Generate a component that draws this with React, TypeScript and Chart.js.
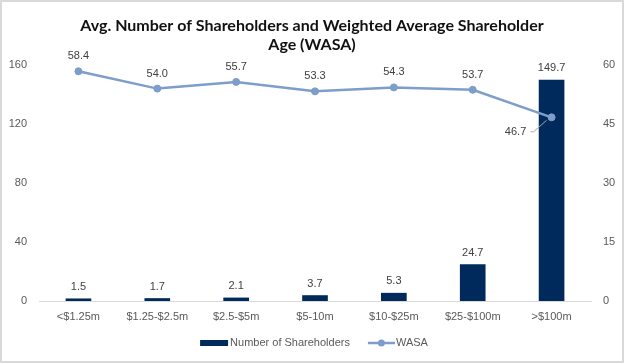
import { useEffect, useRef } from "react";
import { Chart, registerables } from "chart.js";

Chart.register(...registerables);

const categories = ["<$1.25m", "$1.25-$2.5m", "$2.5-$5m", "$5-10m", "$10-$25m", "$25-$100m", ">$100m"];
const shareholders = [1.5, 1.7, 2.1, 3.7, 5.3, 24.7, 149.7];
const wasa = [58.4, 54.0, 55.7, 53.3, 54.3, 53.7, 46.7];
const leftAxis = { min: 0, max: 160, step: 40 };
const rightAxis = { min: 0, max: 60, step: 15 };
const titleLines = ["Avg. Number of Shareholders and Weighted Average Shareholder", "Age (WASA)"];
const seriesNames = ["Number of Shareholders", "WASA"];

const BAR_COLOR = "#002a5c";
const LINE_COLOR = "#7d9dca";
const TEXT_COLOR = "#595959";
const LABEL_COLOR = "#404040";
const FONT = "'Liberation Sans', Arial, sans-serif";

const decorPlugin = {
  id: "decor",
  beforeDraw(chart: any) {
    const { ctx, width, height } = chart;
    ctx.save();
    ctx.fillStyle = "#ffffff";
    ctx.fillRect(0, 0, width, height);
    ctx.restore();
  },
  afterDatasetsDraw(chart: any) {
    const { ctx } = chart;
    ctx.save();
    ctx.font = `11px ${FONT}`;
    ctx.fillStyle = LABEL_COLOR;
    ctx.textAlign = "center";
    ctx.textBaseline = "middle";
    const barMeta = chart.getDatasetMeta(0);
    barMeta.data.forEach((el: any, i: number) => {
      ctx.fillText(shareholders[i].toFixed(1), el.x, el.y - 12);
    });
    const lineMeta = chart.getDatasetMeta(1);
    const n = lineMeta.data.length;
    lineMeta.data.forEach((el: any, i: number) => {
      const txt = wasa[i].toFixed(1);
      if (i === n - 1) {
        ctx.fillText(txt, el.x - 36, el.y + 15);
        ctx.strokeStyle = "#a6a6a6";
        ctx.lineWidth = 1;
        ctx.beginPath();
        ctx.moveTo(el.x - 21, el.y + 14.5);
        ctx.lineTo(el.x - 18, el.y + 14.5);
        ctx.lineTo(el.x - 5, el.y + 3);
        ctx.stroke();
      } else {
        ctx.fillText(txt, el.x, el.y - 15);
      }
    });
    ctx.restore();
  },
  afterDraw(chart: any) {
    const { ctx, width, height } = chart;
    ctx.save();
    // legend
    const y = 343;
    ctx.font = `11px ${FONT}`;
    ctx.textBaseline = "middle";
    ctx.textAlign = "left";
    const w1 = ctx.measureText(seriesNames[0]).width;
    const w2 = ctx.measureText(seriesNames[1]).width;
    const total = 28 + 2 + w1 + 18 + 27 + 1 + w2;
    let x = width / 2 + 2 - total / 2;
    ctx.fillStyle = BAR_COLOR;
    ctx.fillRect(x, y - 3, 28, 6);
    x += 30;
    ctx.fillStyle = TEXT_COLOR;
    ctx.fillText(seriesNames[0], x, y);
    x += w1 + 18;
    ctx.strokeStyle = LINE_COLOR;
    ctx.lineWidth = 2.5;
    ctx.beginPath();
    ctx.moveTo(x, y);
    ctx.lineTo(x + 27, y);
    ctx.stroke();
    ctx.fillStyle = LINE_COLOR;
    ctx.beginPath();
    ctx.arc(x + 13.5, y, 3.5, 0, Math.PI * 2);
    ctx.fill();
    x += 28;
    ctx.fillStyle = TEXT_COLOR;
    ctx.fillText(seriesNames[1], x, y);
    // frame
    ctx.strokeStyle = "#d9d9d9";
    ctx.lineWidth = 2;
    ctx.strokeRect(1, 1, width - 2, height - 2);
    ctx.restore();
  },
};

export default function App() {
  const ref = useRef<HTMLCanvasElement | null>(null);
  useEffect(() => {
    if (!ref.current) return;
    const chart = new Chart(ref.current, {
      data: {
        labels: categories,
        datasets: [
          {
            type: "bar",
            label: seriesNames[0],
            data: shareholders,
            backgroundColor: BAR_COLOR,
            borderWidth: 0,
            barThickness: 25,
            yAxisID: "y",
            order: 1,
          },
          {
            type: "line",
            label: seriesNames[1],
            data: wasa,
            borderColor: LINE_COLOR,
            backgroundColor: LINE_COLOR,
            borderWidth: 2.5,
            pointRadius: 3.5,
            pointBackgroundColor: LINE_COLOR,
            pointBorderColor: LINE_COLOR,
            pointBorderWidth: 1,
            tension: 0,
            yAxisID: "y1",
            order: 0,
          },
        ],
      } as any,
      options: {
        responsive: false,
        animation: false,
        devicePixelRatio: 1,
        layout: { padding: 0 },
        plugins: {
          legend: { display: false },
          tooltip: { enabled: false },
          title: {
            display: true,
            text: titleLines,
            color: "#111111",
            font: { family: "Lato, 'Open Sans', sans-serif", size: 16, weight: "bold", lineHeight: 1.2 },
            padding: { top: 16, bottom: 10.6 },
          },
        },
        scales: {
          x: {
            grid: { display: false, drawTicks: false },
            border: { display: true, color: "#d9d9d9", width: 1 },
            ticks: { color: TEXT_COLOR, font: { family: FONT, size: 11 }, padding: 9, maxRotation: 0, autoSkip: false },
            afterFit: (s: any) => { s.height = 62; },
          },
          y: {
            position: "left",
            min: leftAxis.min,
            max: leftAxis.max,
            grid: { display: false, drawTicks: false },
            border: { display: false },
            ticks: { stepSize: leftAxis.step, color: TEXT_COLOR, font: { family: FONT, size: 11 }, padding: 12 },
            afterFit: (s: any) => { s.width = 39; },
          },
          y1: {
            position: "right",
            min: rightAxis.min,
            max: rightAxis.max,
            grid: { display: false, drawTicks: false },
            border: { display: false },
            ticks: { stepSize: rightAxis.step, color: TEXT_COLOR, font: { family: FONT, size: 11 }, padding: 12 },
            afterFit: (s: any) => { s.width = 33; },
          },
        },
      } as any,
      plugins: [decorPlugin],
    });
    return () => chart.destroy();
  }, []);
  return (
    <div style={{ position: "fixed", left: 0, top: 0, width: 624, height: 363 }}>
      <canvas ref={ref} width={624} height={363} style={{ display: "block" }} />
    </div>
  );
}
